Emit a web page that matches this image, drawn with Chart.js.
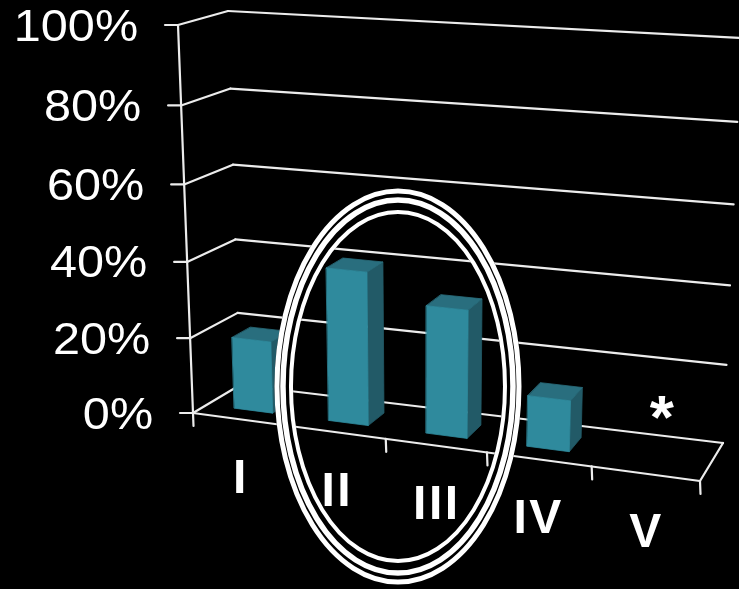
<!DOCTYPE html>
<html>
<head>
<meta charset="utf-8">
<script src="https://cdn.jsdelivr.net/npm/chart.js@4.4.1/dist/chart.umd.min.js"></script>
<style>
  html, body { margin: 0; padding: 0; background: #000; }
  #wrap { width: 739px; height: 589px; }
</style>
</head>
<body>
<div id="wrap"><canvas id="chart" width="739" height="589"></canvas></div>
<script>
// Categories and their shares (percent)
const categories = ['I', 'II', 'III', 'IV', 'V'];
const shares = [19, 40, 33, 13, 0];
// Marker text shown above a category instead of a bar
const categoryNotes = ['', '', '', '', '*'];
// Value axis ticks
const valueTicks = [0, 20, 40, 60, 80, 100];
// Categories circled by the callout
const circledCategories = ['II', 'III'];

// ---- 3D frame geometry (screen corners of the box: [u, v, w, x, y]) ----
// u: across categories, v: value, w: depth (0 front, 1 back)
const FRAME_CORNERS = [
  [0, 0, 0, 193, 413], [0, 1, 0, 178, 25],
  [0, 0, 1, 240, 385], [0, 1, 1, 228, 11],
  [1, 0, 0, 700, 481], [1, 1, 0, 720, 61],
  [1, 0, 1, 723, 443], [1, 1, 1, 741, 38]
];
const PERSP_U = -0.08;   // widening towards the right
const PERSP_V = -0.044;  // widening towards the top
const BAR_DEPTH = [0.3, 0.7];

const persp = (t, k) => t * (1 + k) / (1 + k * t);

function project(u, v, w) {
  const a = persp(u, PERSP_U), b = persp(v, PERSP_V), c = w;
  let x = 0, y = 0;
  for (const [i, j, k, px, py] of FRAME_CORNERS) {
    const wt = (i ? a : 1 - a) * (j ? b : 1 - b) * (k ? c : 1 - c);
    x += wt * px; y += wt * py;
  }
  return { x, y };
}

function line(ctx, p, q) {
  ctx.beginPath(); ctx.moveTo(p.x, p.y); ctx.lineTo(q.x, q.y); ctx.stroke();
}

function poly(ctx, pts, fill) {
  ctx.beginPath();
  pts.forEach((p, i) => i ? ctx.lineTo(p.x, p.y) : ctx.moveTo(p.x, p.y));
  ctx.closePath();
  ctx.fillStyle = fill; ctx.fill();
  ctx.strokeStyle = fill; ctx.lineWidth = 0.8; ctx.stroke();
}

// Text centred vertically on its ink, optional horizontal stretch
function drawText(ctx, str, x, y, font, align, sx, spacing) {
  ctx.save();
  ctx.font = font;
  ctx.letterSpacing = spacing || '0px';
  ctx.textAlign = 'left';
  ctx.textBaseline = 'alphabetic';
  const m = ctx.measureText(str);
  const base = y + (m.actualBoundingBoxAscent - m.actualBoundingBoxDescent) / 2;
  const L = m.actualBoundingBoxLeft, R = m.actualBoundingBoxRight;
  let x0;
  if (align === 'right') x0 = x - sx * R;
  else x0 = x - sx * (R - L) / 2;
  ctx.translate(x0, base);
  ctx.scale(sx, 1);
  ctx.fillStyle = '#fff';
  ctx.fillText(str, 0, 0);
  ctx.restore();
}

const chart3d = {
  id: 'chart3d',
  beforeDraw(chart) {
    const ctx = chart.ctx;
    ctx.save(); ctx.fillStyle = '#000';
    ctx.fillRect(0, 0, chart.width, chart.height); ctx.restore();
  },
  beforeDatasetsDraw(chart, args, opts) {
    const ctx = chart.ctx;
    const xs = chart.scales.x, ys = chart.scales.y;
    const vDec = val => (ys.bottom - ys.getPixelForValue(val)) / (ys.bottom - ys.top);
    const uDec = px => (px - xs.left) / (xs.right - xs.left);

    ctx.save();
    ctx.lineCap = 'round';
    ctx.strokeStyle = opts.gridColor;
    ctx.lineWidth = 2.2;

    // walls: value gridlines on the left and back walls
    valueTicks.forEach(val => {
      const v = vDec(val);
      line(ctx, project(0, v, 0), project(0, v, 1));
      line(ctx, project(0, v, 1), project(1, v, 1));
    });
    // value axis edge with tick marks
    line(ctx, project(0, 0, 0), project(0, 1, 0));
    valueTicks.forEach(val => {
      const p = project(0, vDec(val), 0);
      line(ctx, { x: p.x - 13, y: p.y }, p);
    });
    // floor front and right edges
    line(ctx, project(0, 0, 0), project(1, 0, 0));
    line(ctx, project(1, 0, 0), project(1, 0, 1));
    // category boundary ticks
    const centers = categories.map((c, i) => uDec(xs.getPixelForValue(i)));
    const bounds = [0];
    for (let i = 1; i < centers.length; i++) bounds.push((centers[i - 1] + centers[i]) / 2);
    bounds.push(1);
    bounds.forEach(u => {
      const p = project(u, 0, 0);
      line(ctx, p, { x: p.x + 0.5, y: p.y + 13 });
    });

    // 3D bars
    const meta = chart.getDatasetMeta(0);
    const [w0, w1] = BAR_DEPTH;
    meta.data.forEach((bar, i) => {
      const val = chart.data.datasets[0].data[i];
      if (!val) return;
      const uc = uDec(bar.x);
      const half = bar.width / 2 / (xs.right - xs.left);
      const u0 = uc - half, u1 = uc + half;
      const v = vDec(val);
      const side = [project(u1, 0, w0), project(u1, 0, w1), project(u1, v, w1), project(u1, v, w0)];
      const top = [project(u0, v, w0), project(u1, v, w0), project(u1, v, w1), project(u0, v, w1)];
      const front = [project(u0, 0, w0), project(u1, 0, w0), project(u1, v, w0), project(u0, v, w0)];
      poly(ctx, side, opts.sideColor);
      poly(ctx, top, opts.topColor);
      poly(ctx, front, chart.data.datasets[0].backgroundColor);
    });
    ctx.restore();
    return false;
  },
  afterDraw(chart, args, opts) {
    const ctx = chart.ctx;
    const xs = chart.scales.x, ys = chart.scales.y;
    const vDec = val => (ys.bottom - ys.getPixelForValue(val)) / (ys.bottom - ys.top);
    const uDec = px => (px - xs.left) / (xs.right - xs.left);

    // value tick labels
    valueTicks.forEach(val => {
      const p = project(0, vDec(val), 0);
      drawText(ctx, val + '%', p.x - 41, p.y, '45px "Liberation Sans", Arial, sans-serif', 'right', 1.08);
    });
    // category labels
    categories.forEach((c, i) => {
      const p = project(uDec(xs.getPixelForValue(i)), 0, 0);
      drawText(ctx, c, p.x, p.y + 57, 'bold 48px "Liberation Sans", Arial, sans-serif', 'center', 1, '2.5px');
    });
    // notes
    categoryNotes.forEach((n, i) => {
      if (!n) return;
      const p = project(uDec(xs.getPixelForValue(i)), 0, 0.5);
      drawText(ctx, n, p.x + 4, p.y - 48, 'bold 62px "Liberation Sans", Arial, sans-serif', 'center', 1);
    });

    // callout ellipse around the circled categories
    const idx = circledCategories.map(c => categories.indexOf(c));
    const uMid = (uDec(xs.getPixelForValue(idx[0])) + uDec(xs.getPixelForValue(idx[idx.length - 1]))) / 2;
    const a = project(uMid, 0, 0.5);
    const cx = a.x - 6.7, cy = a.y - 36.4;
    ctx.save();
    ctx.fillStyle = '#000';
    ctx.beginPath();
    ctx.ellipse(cx, cy, 123.5, 198, 0, 0, Math.PI * 2);
    ctx.ellipse(cx, cy, 105, 172.5, 0, 0, Math.PI * 2);
    ctx.fill('evenodd');
    ctx.strokeStyle = '#fff';
    [[121, 195.5, 5], [115, 186.5, 5.5], [107, 174.5, 4]].forEach(([rx, ry, lw]) => {
      ctx.lineWidth = lw;
      ctx.beginPath();
      ctx.ellipse(cx, cy, rx, ry, 0, 0, Math.PI * 2);
      ctx.stroke();
    });
    ctx.restore();
  }
};

new Chart(document.getElementById('chart'), {
  type: 'bar',
  data: {
    labels: categories,
    datasets: [{
      data: shares,
      backgroundColor: '#2f8a9d',
      categoryPercentage: 1,
      barPercentage: 0.41
    }]
  },
  options: {
    responsive: false,
    animation: false,
    layout: { padding: 0 },
    plugins: {
      legend: { display: false },
      tooltip: { enabled: false },
      chart3d: { gridColor: '#ececec', topColor: '#296e7e', sideColor: '#225a67' }
    },
    scales: {
      x: { display: false, offset: true },
      y: { display: false, min: 0, max: 100, ticks: { stepSize: 20 } }
    }
  },
  plugins: [chart3d]
});
</script>
</body>
</html>
